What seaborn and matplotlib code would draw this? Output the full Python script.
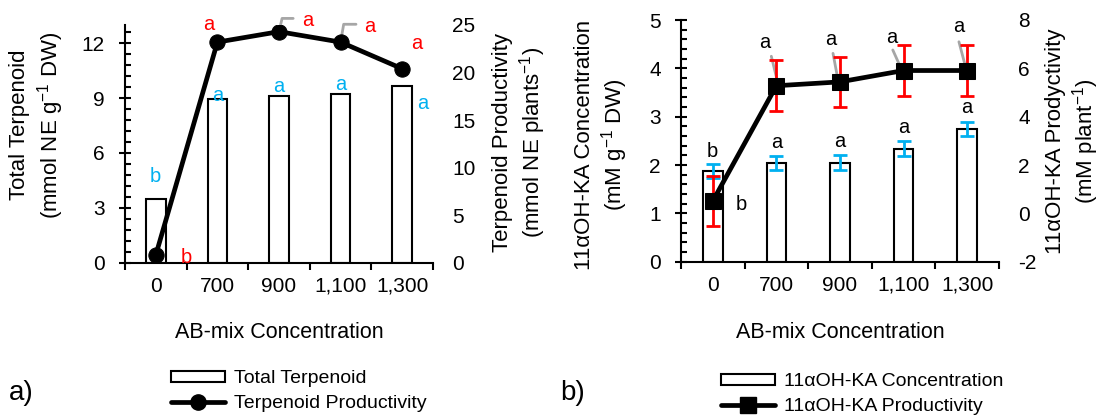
import numpy as np
import matplotlib
matplotlib.use('Agg')
import matplotlib.pyplot as plt
import seaborn as sns
from matplotlib.lines import Line2D
from matplotlib.patches import Patch
from matplotlib.ticker import MultipleLocator

sns.set_style('white')
plt.rcParams['font.family'] = ['Liberation Sans', 'DejaVu Sans']
plt.rcParams['mathtext.fontset'] = 'custom'
plt.rcParams['mathtext.rm'] = 'Liberation Sans'
plt.rcParams['mathtext.it'] = 'Liberation Sans:italic'
plt.rcParams['axes.unicode_minus'] = False
for k in ['text.color', 'axes.labelcolor', 'xtick.color', 'ytick.color']:
    plt.rcParams[k] = 'black'

# categories (AB-mix concentration)
cats = ['0', '700', '900', '1,100', '1,300']

# panel a) total terpenoid (bars, left) and productivity (line, right)
terp_total = [3.48, 8.95, 9.09, 9.22, 9.67]
terp_prod = [0.81, 23.2, 24.3, 23.2, 20.4]

# panel b) 11aOH-KA concentration (bars, left) and productivity (line, right)
oh_conc = [1.88, 2.04, 2.05, 2.34, 2.75]
oh_conc_err = [0.15, 0.15, 0.15, 0.15, 0.15]
oh_prod = [0.51, 5.28, 5.44, 5.91, 5.91]
oh_prod_err = [1.03, 1.06, 1.04, 1.04, 1.04]

# significance letters: (letter, x, y in left-axis units)
a_bar_letters = [('b', 0, 4.7), ('a', 1, 9.15), ('a', 2, 9.65), ('a', 3, 9.75), ('a', 4.33, 8.7)]
a_line_letters = [('b', 0.5, 0.3), ('a', 0.86, 13.0), ('a', 2.47, 13.25), ('a', 3.47, 12.9), ('a', 4.23, 12.0)]
a_leaders = [([2.0, 2.05, 2.23], [12.64, 13.36, 13.36]), ([3.0, 3.05, 3.25], [12.06, 13.04, 13.04])]

b_bar_letters = [('b', 0, 2.29), ('a', 1, 2.46), ('a', 2, 2.48), ('a', 3, 2.77), ('a', 4, 3.18)]
b_line_letters = [('b', 0.45, 1.19), ('a', 0.82, 4.54), ('a', 1.86, 4.6), ('a', 2.82, 4.64), ('a', 3.86, 4.875)]
b_leaders = [([0.92, 1.02], [4.25, 3.71]), ([1.89, 1.97], [4.31, 3.75]),
             ([2.83, 2.96], [4.38, 4.0]), ([3.87, 3.98], [4.55, 4.0])]

RED = '#FF0000'
BLUE = '#00B0F0'
GRAY = '#A6A6A6'
FS = 15
LFS = 16

W, H = 1102, 416
fig = plt.figure(figsize=(W / 100, H / 100), dpi=100)
pos = np.arange(len(cats))


def px_box(x0, x1, y_top, y_bot):
    return [x0 / W, 1 - y_bot / H, (x1 - x0) / W, (y_bot - y_top) / H]


def style(ax, ax2, ylim, major, minor, rlim, rmajor):
    ax.set_xlim(-0.5, len(cats) - 0.5)
    ax.set_ylim(*ylim)
    ax2.set_ylim(*rlim)
    ax.yaxis.set_major_locator(MultipleLocator(major))
    ax.yaxis.set_minor_locator(MultipleLocator(minor))
    ax2.yaxis.set_major_locator(MultipleLocator(rmajor))
    ax.set_xticks(np.arange(-0.5, len(cats), 1))
    ax.set_xticklabels([])
    ax.set_xticks(pos, minor=True)
    ax.set_xticklabels(cats, minor=True)
    ax.tick_params(axis='x', which='major', direction='out', length=5, width=1.5, bottom=True)
    ax.tick_params(axis='x', which='minor', length=0, pad=10, labelsize=FS, bottom=True)
    ax.tick_params(axis='y', which='major', direction='inout', length=9, width=1.5,
                   pad=10, labelsize=FS, left=True)
    ax.tick_params(axis='y', which='minor', direction='in', length=4, width=1.5, left=True)
    ax2.tick_params(axis='y', which='both', length=0, pad=14, labelsize=FS)
    for s in ['top', 'right']:
        ax.spines[s].set_visible(False)
    for s in ax2.spines.values():
        s.set_visible(False)
    for s in ['left', 'bottom']:
        ax.spines[s].set_color('black')
        ax.spines[s].set_linewidth(1.5)
    ax.set_xlabel('')
    ax.set_ylabel('')
    ax2.set_xlabel('')
    ax2.set_ylabel('')
    ax.grid(False)
    ax2.grid(False)


def add_legend(handles, labels, x_px, y_px):
    fig.legend(handles=handles, labels=labels, loc='upper left',
               bbox_to_anchor=(x_px / W, 1 - y_px / H), frameon=False,
               fontsize=14, handlelength=2.8, handleheight=0.5, handletextpad=0.45,
               labelspacing=0.4, borderpad=0, borderaxespad=0)


# ---- panel a ----
ax = fig.add_axes(px_box(125, 433, 25, 262.7))
sns.barplot(x=cats, y=terp_total, ax=ax, color='white', edgecolor='black',
            linewidth=1.5, width=0.32, saturation=1, errorbar=None)
ax2 = ax.twinx()
sns.lineplot(x=pos, y=terp_prod, ax=ax2, color='black', linewidth=3.4, marker='o',
             markersize=11, markeredgecolor='black', legend=False)
style(ax, ax2, (0, 13), 3, 0.6, (0, 25), 5)

for xs, ys in a_leaders:
    ax.plot(xs, ys, color=GRAY, lw=2, clip_on=False)
for s, x, y in a_bar_letters:
    ax.text(x, y, s, color=BLUE, ha='center', va='center', fontsize=14.5, clip_on=False)
for s, x, y in a_line_letters:
    ax.text(x, y, s, color=RED, ha='center', va='center', fontsize=14.5, clip_on=False)

fig.text(37.5 / W, 1 - 125 / H, 'Total Terpenoid\n(mmol NE g$^{-1}$ DW)', rotation=90,
         ha='center', va='center', fontsize=LFS, multialignment='center')
fig.text(520 / W, 1 - 142 / H, 'Terpenoid Productivity\n(mmol NE plants$^{-1}$)', rotation=90,
         ha='center', va='center', fontsize=LFS, multialignment='center')
fig.text(279 / W, 1 - 333 / H, 'AB-mix Concentration', ha='center', va='center', fontsize=15.5)
fig.text(9 / W, 1 - 393 / H, 'a)', ha='left', va='center', fontsize=20)
add_legend([Patch(facecolor='white', edgecolor='black', linewidth=1.5),
            Line2D([], [], color='black', lw=3.4, marker='o', markersize=11)],
           ['Total Terpenoid', 'Terpenoid Productivity'], 171, 370)

# ---- panel b ----
bx = fig.add_axes(px_box(681, 999, 20, 261.7))
sns.barplot(x=cats, y=oh_conc, ax=bx, color='white', edgecolor='black',
            linewidth=1.5, width=0.31, saturation=1, errorbar=None)
bx.errorbar(pos, oh_conc, yerr=oh_conc_err, fmt='none', ecolor=BLUE, elinewidth=2,
            capsize=5, capthick=2)
bx2 = bx.twinx()
bx2.errorbar(pos, oh_prod, yerr=oh_prod_err, fmt='none', ecolor=RED, elinewidth=2,
             capsize=5, capthick=2)
sns.lineplot(x=pos, y=oh_prod, ax=bx2, color='black', linewidth=3.4, marker='s',
             markersize=12, markeredgecolor='black', legend=False)
style(bx, bx2, (0, 5), 1, 0.2, (-2, 8), 2)

for xs, ys in b_leaders:
    bx.plot(xs, ys, color=GRAY, lw=2, clip_on=False)
for s, x, y in b_bar_letters + b_line_letters:
    bx.text(x, y, s, color='black', ha='center', va='center', fontsize=14.5, clip_on=False)

fig.text(602 / W, 1 - 145 / H, '11αOH-KA Concentration\n(mM g$^{-1}$ DW)', rotation=90,
         ha='center', va='center', fontsize=LFS, multialignment='center')
fig.text(1073 / W, 1 - 141 / H, '11αOH-KA Prodyctivity\n(mM plant$^{-1}$)', rotation=90,
         ha='center', va='center', fontsize=LFS, multialignment='center')
fig.text(840 / W, 1 - 333 / H, 'AB-mix Concentration', ha='center', va='center', fontsize=15.5)
fig.text(560 / W, 1 - 393 / H, 'b)', ha='left', va='center', fontsize=20)
add_legend([Patch(facecolor='white', edgecolor='black', linewidth=1.5),
            Line2D([], [], color='black', lw=3.4, marker='s', markersize=12)],
           ['11αOH-KA Concentration', '11αOH-KA Productivity'], 721, 373)

fig.savefig('out.png', dpi=100)
